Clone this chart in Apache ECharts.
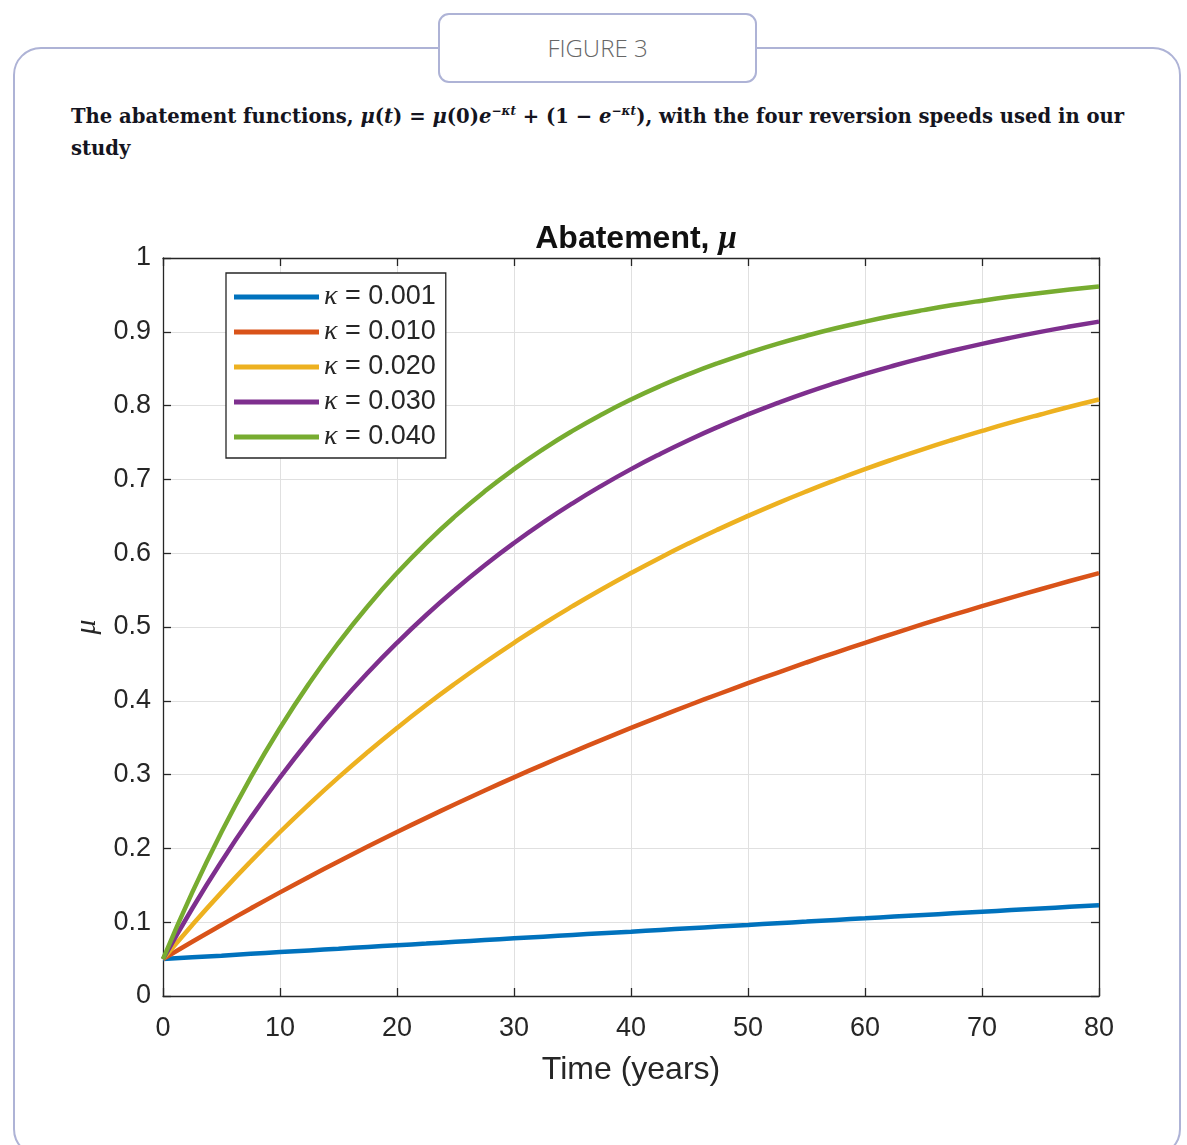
<!DOCTYPE html>
<html>
<head>
<meta charset="utf-8">
<script src="https://cdn.jsdelivr.net/npm/echarts@6/dist/echarts.min.js"></script>
<style>
  html, body { margin: 0; padding: 0; background: #fff; width: 1187px; height: 1145px; overflow: hidden; }
  .card { position: absolute; left: 13px; top: 47px; width: 1168px; height: 1110px;
          border: 2px solid #aeb3d6; border-radius: 28px; box-sizing: border-box; }
  .tab { position: absolute; left: 438px; top: 13px; width: 319px; height: 70px;
         border: 2px solid #aeb3d6; border-radius: 11px; background: #fff; box-sizing: border-box;
         font: 300 24px "Open Sans", sans-serif; color: #666; text-align: center; line-height: 66px; }
  .caption { position: absolute; left: 71px; top: 101px; width: 1090px;
             font: bold 19.6px "DejaVu Serif", serif; line-height: 32px; color: #141420; }
  .caption i { font-style: italic; }
  .caption sup { font-size: 12px; line-height: 0; vertical-align: 8px; }
  #chart { position: absolute; left: 0; top: 0; width: 1187px; height: 1145px; }
</style>
</head>
<body>
<div class="card"></div>
<div class="tab">FIGURE 3</div>
<div class="caption">The abatement functions, <i>μ</i>(<i>t</i>) = <i>μ</i>(0)<i>e</i><sup>−<i>κt</i></sup> + (1 − <i>e</i><sup>−<i>κt</i></sup>), with the four reversion speeds used in our<br>study</div>
<div id="chart"></div>
<script>
// Time in years at which the abatement level is sampled
const years = [0, 2.5, 5, 7.5, 10, 12.5, 15, 17.5, 20, 22.5, 25, 27.5, 30, 32.5, 35, 37.5, 40,
               42.5, 45, 47.5, 50, 52.5, 55, 57.5, 60, 62.5, 65, 67.5, 70, 72.5, 75, 77.5, 80];

// Abatement level mu for each reversion speed kappa
const mu_k001 = [0.0500, 0.0524, 0.0547, 0.0571, 0.0595, 0.0618, 0.0641, 0.0665, 0.0688, 0.0711, 0.0735,
                 0.0758, 0.0781, 0.0804, 0.0827, 0.0850, 0.0872, 0.0895, 0.0918, 0.0941, 0.0963, 0.0986,
                 0.1008, 0.1031, 0.1053, 0.1076, 0.1098, 0.1120, 0.1142, 0.1164, 0.1186, 0.1208, 0.1230];
const mu_k010 = [0.0500, 0.0735, 0.0963, 0.1186, 0.1404, 0.1616, 0.1823, 0.2025, 0.2222, 0.2414, 0.2601,
                 0.2784, 0.2962, 0.3136, 0.3305, 0.3471, 0.3632, 0.3789, 0.3943, 0.4092, 0.4238, 0.4380,
                 0.4519, 0.4654, 0.4786, 0.4915, 0.5041, 0.5163, 0.5282, 0.5399, 0.5512, 0.5623, 0.5731];
const mu_k020 = [0.0500, 0.0963, 0.1404, 0.1823, 0.2222, 0.2601, 0.2962, 0.3305, 0.3632, 0.3943, 0.4238,
                 0.4519, 0.4786, 0.5041, 0.5282, 0.5512, 0.5731, 0.5940, 0.6138, 0.6326, 0.6505, 0.6676,
                 0.6838, 0.6992, 0.7139, 0.7278, 0.7411, 0.7537, 0.7657, 0.7772, 0.7880, 0.7984, 0.8082];
const mu_k030 = [0.0500, 0.1186, 0.1823, 0.2414, 0.2962, 0.3471, 0.3943, 0.4380, 0.4786, 0.5163, 0.5512,
                 0.5837, 0.6138, 0.6417, 0.6676, 0.6916, 0.7139, 0.7345, 0.7537, 0.7715, 0.7880, 0.8033,
                 0.8176, 0.8307, 0.8430, 0.8543, 0.8648, 0.8746, 0.8837, 0.8921, 0.8999, 0.9071, 0.9138];
const mu_k040 = [0.0500, 0.1404, 0.2222, 0.2962, 0.3632, 0.4238, 0.4786, 0.5282, 0.5731, 0.6138, 0.6505,
                 0.6838, 0.7139, 0.7411, 0.7657, 0.7880, 0.8082, 0.8265, 0.8430, 0.8579, 0.8714, 0.8837,
                 0.8947, 0.9048, 0.9138, 0.9220, 0.9294, 0.9362, 0.9422, 0.9477, 0.9527, 0.9572, 0.9613];

const kappaLabels = ['0.001', '0.010', '0.020', '0.030', '0.040'];
const seriesValues = [mu_k001, mu_k010, mu_k020, mu_k030, mu_k040];
const lineColors = ['#0072BD', '#D95319', '#EDB120', '#7E2F8E', '#77AC30'];

const ink = '#262626';
const sans = '"Liberation Sans", Arial, sans-serif';
const serif = '"Liberation Serif", serif';

const chart = echarts.init(document.getElementById('chart'), null, { renderer: 'canvas' });

// Box-style frame: every side carries an axis line with inward ticks
function frameAxis(extra) {
  return Object.assign({
    axisLine: { show: true, onZero: false, lineStyle: { color: ink, width: 1.3 } },
    axisTick: { show: true, inside: true, length: 8, lineStyle: { color: ink, width: 1.3 } },
  }, extra);
}

const xCommon = { type: 'value', min: 0, max: 80, interval: 10 };
const yCommon = { type: 'value', min: 0, max: 1, interval: 0.1 };

chart.setOption({
  backgroundColor: 'transparent',
  animation: false,
  title: {
    text: '{b|Abatement, }{m|μ}',
    left: 631,
    top: 218,
    textAlign: 'center',
    textStyle: {
      rich: {
        b: { fontFamily: sans, fontWeight: 'bold', fontSize: 32, color: '#111' },
        m: { fontFamily: serif, fontStyle: 'italic', fontSize: 33, color: '#111' }
      }
    }
  },
  grid: { left: 163, top: 258, width: 936, height: 738, containLabel: false },
  legend: {
    orient: 'vertical',
    left: 226,
    top: 273,
    padding: [10, 10, 7, 8],
    icon: 'rect',
    itemWidth: 85,
    itemHeight: 5,
    itemGap: 7,
    itemTextGap: 7,
    backgroundColor: '#fff',
    borderColor: ink,
    borderWidth: 1.3,
    borderRadius: 0,
    data: kappaLabels.map(k => 'κ = ' + k),
    formatter: name => '{k|κ}{t|' + name.slice(1) + '}',
    textStyle: {
      color: ink,
      rich: {
        k: { fontFamily: serif, fontStyle: 'italic', fontSize: 28, color: ink, lineHeight: 24 },
        t: { fontFamily: sans, fontSize: 27, color: ink, lineHeight: 24 }
      }
    }
  },
  xAxis: [
    frameAxis(Object.assign({}, xCommon, {
      position: 'bottom',
      axisLabel: { fontFamily: sans, fontSize: 27, color: ink, margin: 19 },
      splitLine: { show: true, lineStyle: { color: '#e0e0e0', width: 1 } },
      name: 'Time (years)',
      nameLocation: 'middle',
      nameGap: 58,
      nameTextStyle: { fontFamily: sans, fontSize: 32, color: ink }
    })),
    frameAxis(Object.assign({}, xCommon, {
      position: 'top',
      axisLabel: { show: false },
      splitLine: { show: false }
    }))
  ],
  yAxis: [
    frameAxis(Object.assign({}, yCommon, {
      position: 'left',
      axisLabel: { fontFamily: sans, fontSize: 27, color: ink, margin: 12 },
      splitLine: { show: true, lineStyle: { color: '#e0e0e0', width: 1 } },
      name: 'μ',
      nameLocation: 'middle',
      nameGap: 60,
      nameRotate: 90,
      nameTextStyle: { fontFamily: serif, fontStyle: 'italic', fontSize: 30, color: ink }
    })),
    frameAxis(Object.assign({}, yCommon, {
      position: 'right',
      axisLabel: { show: false },
      splitLine: { show: false }
    }))
  ],
  series: seriesValues.map((vals, i) => ({
    name: 'κ = ' + kappaLabels[i],
    type: 'line',
    xAxisIndex: 0,
    yAxisIndex: 0,
    smooth: true,
    showSymbol: false,
    color: lineColors[i],
    lineStyle: { width: 4.5, color: lineColors[i] },
    data: years.map((t, j) => [t, vals[j]])
  }))
});
</script>
</body>
</html>
